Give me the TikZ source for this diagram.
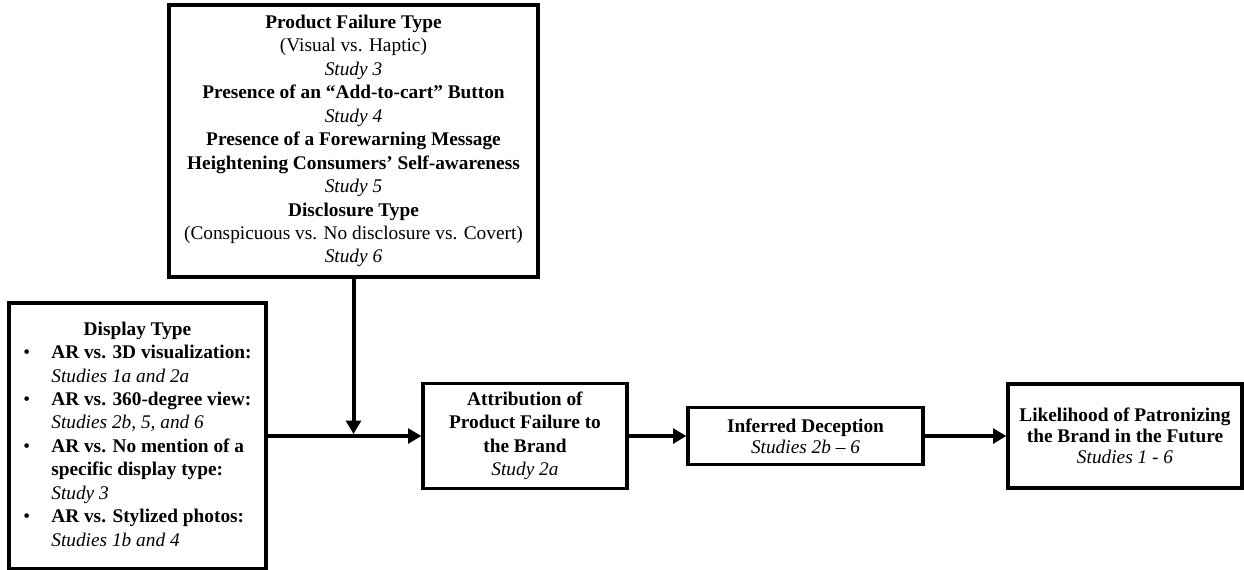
\documentclass[tikz,border=0pt]{standalone}
\usepackage{fontspec}
\setmainfont{Liberation Serif}
\usetikzlibrary{arrows.meta}
\tikzset{box/.style={draw,line width=2.4pt,align=center,inner sep=0pt,font=\fontsize{14.5pt}{17.6pt}\selectfont}}
\tikzset{tight/.style={font=\fontsize{14.5pt}{15.75pt}\selectfont}}
\tikzset{link/.style={line width=3pt,-{Triangle[length=10pt,width=11pt]}}}
\newcommand{\itembul}{\makebox[21pt][l]{\textbullet}}

\begin{document}
\begin{tikzpicture}[x=0.75pt,y=-0.75pt]
	    \useasboundingbox (0,0) rectangle (1244,569);
	    \node[box,minimum width=276.75pt,minimum height=204pt] (factors) at (353.5,141)
		{\textbf{Product Failure Type}\\(Visual vs. Haptic)\\\textit{Study 3}\\
		\textbf{Presence of an “Add-to-cart” Button}\\\textit{Study 4}\\
		\textbf{Presence of a Forewarning Message}\\\textbf{Heightening Consumers’ Self-awareness}\\\textit{Study 5}\\
		\textbf{Disclosure Type}\\(Conspicuous vs. No disclosure vs. Covert)\\\textit{Study 6}};
	    \node[box,minimum width=192.75pt,minimum height=199.5pt] (display) at (137.5,436)
		{\begin{tabular}{@{}l@{}l@{}}
		\multicolumn{2}{c}{\textbf{Display Type}}\\
		\itembul & \textbf{AR vs. 3D visualization:}\\
		& \textit{Studies 1a and 2a}\\
		\itembul & \textbf{AR vs. 360-degree view:}\\
		& \textit{Studies 2b, 5, and 6}\\
		\itembul & \textbf{AR vs. No mention of a}\\
		& \textbf{specific display type:}\\
		& \textit{Study 3}\\
		\itembul & \textbf{AR vs. Stylized photos:}\\
		& \textit{Studies 1b and 4}
		\end{tabular}};
	    \node[box,minimum width=153pt,minimum height=78.75pt] (attribution) at (525,436)
		{\textbf{Attribution of}\\\textbf{Product Failure to}\\\textbf{the Brand}\\\textit{Study 2a}};
	    \node[box,tight,minimum width=176.25pt,minimum height=42.75pt] (inferred) at (805.5,436)
		{\textbf{Inferred Deception}\\\textit{Studies 2b – 6}};
	    \node[box,tight,minimum width=175.5pt,minimum height=78pt] (likelihood) at (1125,436)
		{\textbf{Likelihood of Patronizing}\\\textbf{the Brand in the Future}\\\textit{Studies 1 - 6}};
	    % connectors
	    \draw[link] (display) -- (attribution);
	    \draw[link,shorten >=1.5pt] (factors.south) -- (factors.south |- display.east);
	    \draw[link] (attribution) -- (inferred);
	    \draw[link] (inferred) -- (likelihood);
        \end{tikzpicture}
\end{document}
